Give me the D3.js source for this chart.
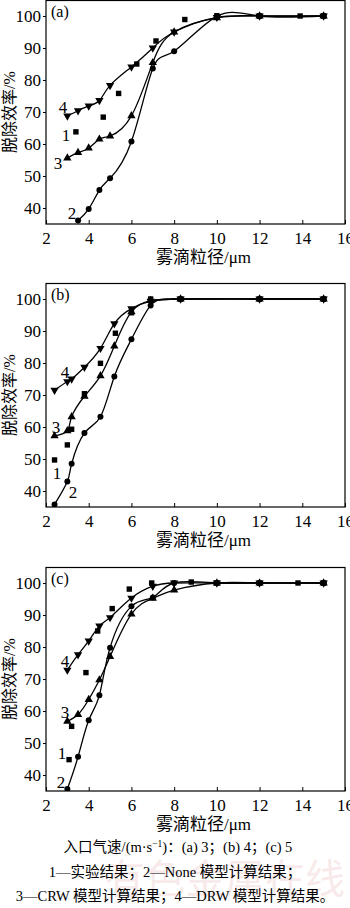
<!DOCTYPE html>
<html>
<head>
<meta charset="utf-8">
<script src="https://cdn.jsdelivr.net/npm/d3@7"></script>
<style>
  html, body { margin: 0; padding: 0; background: #fff; }
  svg { display: block; }
</style>
</head>
<body>
<svg id="chart" width="350" height="908"></svg>
<script>
// Droplet diameter (μm) vs. removal efficiency (%) for three inlet velocities.
const xTicks = [2, 4, 6, 8, 10, 12, 14, 16];
const yTicks = [40, 50, 60, 70, 80, 90, 100];

// (a) inlet velocity 3 m/s
const aExpX  = [3.4, 4.68, 5.4, 6.25, 7.15, 8.5, 10, 12, 13.9, 15];
const aExpY  = [63.8, 68.4, 75.8, 85.0, 92.2, 98.9, 100.1, 100, 100, 100];
const aNoneX = [3.5, 4, 4.5, 5, 6, 7, 8, 10, 12, 15];
const aNoneY = [36.1, 39.7, 45.6, 49.3, 60.8, 83.6, 89.0, 99.9, 100, 100];
const aModX  = [3, 3.5, 4, 4.5, 5, 6, 7, 8, 10, 12, 15];
const aCrwY  = [55.6, 57.3, 58.7, 61.5, 62.5, 68.8, 85.4, 95.0, 99.4, 100, 100];
const aDrwY  = [68.8, 70.4, 71.9, 73.6, 78.3, 84.1, 90.0, 95.0, 99.6, 100, 100];

// (b) inlet velocity 4 m/s
const bExpX  = [2.4, 3, 3.2, 3.8, 4.55, 5.25, 6, 6.9, 8.3, 12, 15];
const bExpY  = [49.7, 54.4, 59.3, 70.4, 79.9, 89.3, 95.7, 100, 100, 100, 100];
const bModX  = [2.4, 3, 3.2, 3.8, 4.55, 5.2, 6, 6.9, 8.3, 12, 15];
const bNoneY = [35.8, 43.0, 48.5, 58.1, 63.2, 75.8, 87.4, 98.0, 100, 100, 100];
const bCrwY  = [57.2, 58.8, 63.2, 69.6, 76.0, 85.3, 96.0, 99.5, 100, 100, 100];
const bDrwY  = [71.5, 74.2, 75.0, 78.7, 84.6, 92.3, 97.0, 99.3, 100, 100, 100];

// (c) inlet velocity 5 m/s
const cExpX  = [3.08, 3.2, 3.87, 4.42, 5.1, 5.9, 6.95, 8.8, 10, 12, 13.8, 15];
const cExpY  = [44.8, 55.2, 72.0, 85.0, 92.0, 98.1, 100, 100.3, 100, 100, 100, 100];
const cModX  = [3, 3.5, 4, 4.5, 5, 6, 7, 8, 10, 12, 15];
const cNoneY = [35.6, 45.7, 57.1, 64.9, 79.8, 92.7, 95.5, 100, 100, 100, 100];
const cCrwY  = [56.8, 58.9, 63.6, 69.7, 77.0, 90.3, 95.2, 97.8, 100, 100, 100];
const cDrwY  = [72.8, 77.6, 81.9, 86.6, 89.2, 95.3, 99.0, 100, 100, 100, 100];

const zip = (xs, ys) => xs.map((x, i) => ({ x, y: ys[i] }));

const panels = [
  { tag: "(a)", top: 0,
    exp: zip(aExpX, aExpY),
    models: [
      { id: "2", marker: "circle", pts: zip(aNoneX, aNoneY) },
      { id: "3", marker: "up",     pts: zip(aModX, aCrwY) },
      { id: "4", marker: "down",   pts: zip(aModX, aDrwY) }
    ],
    labels: [
      { t: "4", x: 63, y: 113 }, { t: "1", x: 66, y: 141 },
      { t: "3", x: 58, y: 169 }, { t: "2", x: 72, y: 219 }
    ] },
  { tag: "(b)", top: 283,
    exp: zip(bExpX, bExpY),
    models: [
      { id: "2", marker: "circle", pts: zip(bModX, bNoneY) },
      { id: "3", marker: "up",     pts: zip(bModX, bCrwY) },
      { id: "4", marker: "down",   pts: zip(bModX, bDrwY) }
    ],
    labels: [
      { t: "4", x: 65, y: 378 }, { t: "3", x: 56, y: 433 },
      { t: "1", x: 57, y: 479 }, { t: "2", x: 73, y: 498 }
    ] },
  { tag: "(c)", top: 567,
    exp: zip(cExpX, cExpY),
    models: [
      { id: "2", marker: "circle", pts: zip(cModX, cNoneY) },
      { id: "3", marker: "up",     pts: zip(cModX, cCrwY) },
      { id: "4", marker: "down",   pts: zip(cModX, cDrwY) }
    ],
    labels: [
      { t: "4", x: 65, y: 667 }, { t: "3", x: 65, y: 718 },
      { t: "1", x: 62, y: 759 }, { t: "2", x: 61, y: 788 }
    ] }
];

const svg = d3.select("#chart");
const serif = "'Liberation Serif', 'DejaVu Serif', serif";
const cjk = "'Liberation Serif', 'Noto Sans CJK SC', serif";

const left = 46, right = 345, plotH = 224;
const x = d3.scaleLinear().domain([2, 16]).range([left, right]);

const triUp = d3.symbol().type(d3.symbolTriangle).size(30)();

panels.forEach((p, pi) => {
  const y = d3.scaleLinear().domain([35, 105]).range([p.top + plotH, p.top]);
  const g = svg.append("g");

  const clipId = "clip" + pi;
  svg.append("clipPath").attr("id", clipId)
    .append("rect").attr("x", left).attr("y", p.top)
    .attr("width", right - left).attr("height", plotH);

  // x axis, ticks pointing inward
  const xAxis = g.append("g")
    .attr("transform", `translate(0,${p.top + plotH})`)
    .call(d3.axisBottom(x).tickValues(xTicks).tickSizeInner(-4).tickSizeOuter(0).tickPadding(8));
  xAxis.select(".domain").remove();
  xAxis.selectAll("text").attr("font-family", serif).attr("font-size", 17).attr("fill", "#000");
  xAxis.selectAll("line").attr("stroke", "#000");

  // y axis, short outward ticks
  const yAxis = g.append("g")
    .attr("transform", `translate(${left},0)`)
    .call(d3.axisLeft(y).tickValues(yTicks).tickSizeInner(3).tickSizeOuter(0).tickPadding(2));
  yAxis.select(".domain").remove();
  yAxis.selectAll("text").attr("font-family", serif).attr("font-size", 17).attr("fill", "#000");
  yAxis.selectAll("line").attr("stroke", "#000");

  // frame
  g.append("rect")
    .attr("x", left).attr("y", p.top + 0.5)
    .attr("width", right - left).attr("height", plotH - 0.5)
    .attr("fill", "none").attr("stroke", "#000").attr("stroke-width", 1.2);

  // axis titles
  g.append("text")
    .attr("x", (left + right) / 2 + 8).attr("y", p.top + plotH + 39)
    .attr("text-anchor", "middle")
    .attr("font-family", cjk).attr("font-size", 17)
    .text("雾滴粒径/μm");
  g.append("text")
    .attr("transform", `translate(15,${p.top + plotH / 2}) rotate(-90)`)
    .attr("text-anchor", "middle")
    .attr("font-family", cjk).attr("font-size", 16)
    .text("脱除效率/%");

  // panel tag
  g.append("text")
    .attr("x", 51).attr("y", p.top + 17)
    .attr("font-family", serif).attr("font-size", 16)
    .text(p.tag);

  const plot = g.append("g").attr("clip-path", `url(#${clipId})`);
  const line = d3.line().x(d => x(d.x)).y(d => y(d.y)).curve(d3.curveNatural);

  p.models.forEach(m => {
    plot.append("path")
      .attr("d", line(m.pts))
      .attr("fill", "none").attr("stroke", "#000").attr("stroke-width", 1.3);

    const mk = plot.selectAll(null).data(m.pts).enter();
    if (m.marker === "circle") {
      mk.append("circle")
        .attr("cx", d => x(d.x)).attr("cy", d => y(d.y)).attr("r", 3)
        .attr("fill", "#000");
    } else {
      mk.append("path")
        .attr("d", triUp)
        .attr("transform", d => `translate(${x(d.x)},${y(d.y)})` + (m.marker === "down" ? " rotate(180)" : ""))
        .attr("fill", "#000");
    }
  });

  plot.selectAll(null).data(p.exp).enter().append("rect")
    .attr("x", d => x(d.x) - 2.7).attr("y", d => y(d.y) - 2.7)
    .attr("width", 5.4).attr("height", 5.4)
    .attr("fill", "#000");

  // curve numbers
  g.selectAll(null).data(p.labels).enter().append("text")
    .attr("x", d => d.x).attr("y", d => d.y)
    .attr("text-anchor", "middle")
    .attr("font-family", serif).attr("font-size", 17)
    .text(d => d.t);
});

// faint publisher watermark
svg.append("text")
  .attr("x", 345).attr("y", 893)
  .attr("text-anchor", "end")
  .attr("font-family", "'Noto Sans CJK SC', sans-serif").attr("font-size", 40)
  .attr("fill", "#e9b7b7").attr("fill-opacity", 0.3)
  .text("有色金属在线");

// caption
const cap = svg.append("g").attr("font-family", cjk).attr("font-size", 14.5).attr("text-anchor", "middle");
const c1 = cap.append("text").attr("x", 178).attr("y", 852);
c1.append("tspan").text("入口气速/(m·s");
c1.append("tspan").attr("font-size", 9.5).attr("dy", -5).text("−1");
c1.append("tspan").attr("dy", 5).text(")：(a) 3；(b) 4；(c) 5");
cap.append("text").attr("x", 175).attr("y", 877).text("1—实验结果；2—None 模型计算结果；");
cap.append("text").attr("x", 175).attr("y", 901).text("3—CRW 模型计算结果；4—DRW 模型计算结果。");
</script>
</body>
</html>
